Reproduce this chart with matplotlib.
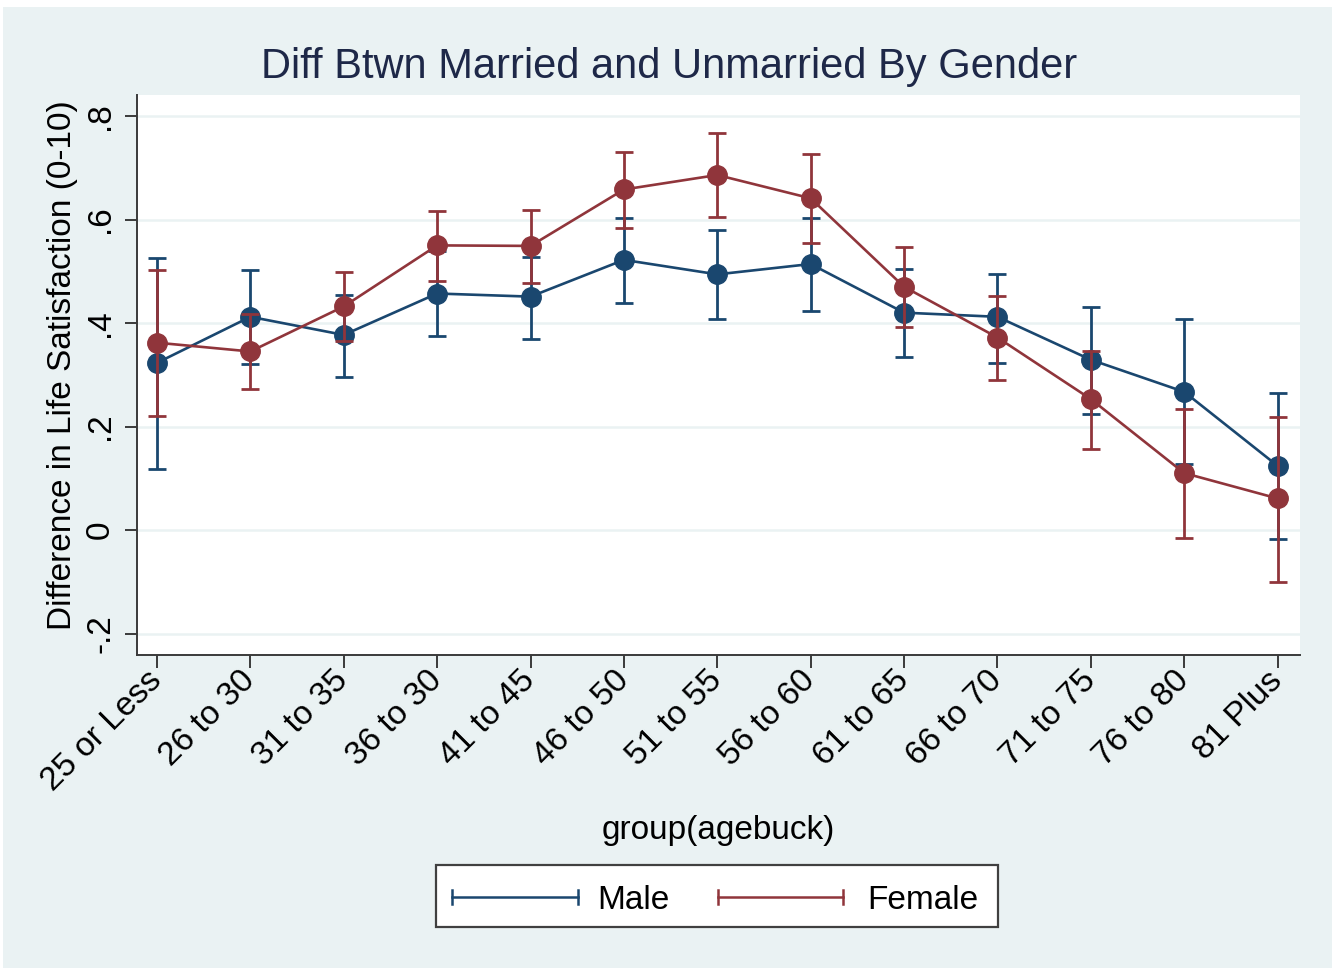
import matplotlib
matplotlib.use("Agg")
import matplotlib.pyplot as plt
from matplotlib.patches import Rectangle
from matplotlib.lines import Line2D
import numpy as np

plt.rcParams['font.family'] = ['Liberation Sans', 'DejaVu Sans']

# ---- data ----
age_groups = ["25 or Less", "26 to 30", "31 to 35", "36 to 30", "41 to 45", "46 to 50",
              "51 to 55", "56 to 60", "61 to 65", "66 to 70", "71 to 75", "76 to 80", "81 Plus"]
male = [0.323, 0.412, 0.377, 0.457, 0.451, 0.522, 0.494, 0.514, 0.420, 0.412, 0.329, 0.267, 0.124]
male_lo = [0.118, 0.321, 0.296, 0.374, 0.369, 0.438, 0.408, 0.424, 0.335, 0.322, 0.224, 0.127, -0.018]
male_hi = [0.526, 0.502, 0.455, 0.540, 0.528, 0.603, 0.580, 0.602, 0.504, 0.495, 0.430, 0.407, 0.264]
female = [0.362, 0.345, 0.432, 0.550, 0.549, 0.658, 0.686, 0.641, 0.470, 0.372, 0.253, 0.110, 0.061]
female_lo = [0.221, 0.272, 0.366, 0.482, 0.478, 0.584, 0.605, 0.555, 0.393, 0.289, 0.157, -0.016, -0.101]
female_hi = [0.502, 0.418, 0.498, 0.616, 0.618, 0.730, 0.767, 0.726, 0.546, 0.453, 0.346, 0.233, 0.219]
yticks = [-0.2, 0, 0.2, 0.4, 0.6, 0.8]
ytick_labels = ["-.2", "0", ".2", ".4", ".6", ".8"]

NAVY = "#1A476F"
MAROON = "#90353B"
BG = "#EAF2F3"
FS = 24

W, H = 1335, 971
fig = plt.figure(figsize=(W / 100, H / 100), dpi=100, facecolor="white")

def fx(px):
    return px / W

def fy(py):
    return 1 - py / H

# outer graph region
fig.patches.append(Rectangle((fx(3), fy(968)), fx(1332) - fx(3), fy(7) - fy(968),
                             transform=fig.transFigure, facecolor=BG, edgecolor="none", zorder=-10))

ax = fig.add_axes([fx(137), fy(655), fx(1300) - fx(137), fy(95) - fy(655)])
ax.set_zorder(1)
ax.set_facecolor("white")

x = np.arange(len(age_groups))

def draw(vals, lo, hi, color, z):
    vals = np.array(vals); lo = np.array(lo); hi = np.array(hi)
    ax.errorbar(x, vals, yerr=[vals - lo, hi - vals], fmt="none", ecolor=color,
                elinewidth=2.0, capsize=6.5, capthick=2.0, zorder=z)
    ax.plot(x, vals, color=color, lw=1.9, marker="o", markersize=14,
            markeredgecolor=color, markerfacecolor=color, zorder=z + 1)

draw(male, male_lo, male_hi, NAVY, 3)
draw(female, female_lo, female_hi, MAROON, 5)

ax.set_xlim(-0.214, 12.24)
ax.set_ylim(-0.2415, 0.8406)
ax.set_yticks(yticks)
ax.set_yticklabels(ytick_labels, rotation=90, va="center", fontsize=FS)
ax.set_xticks(x)
ax.set_xticklabels(age_groups, rotation=45, ha="right", va="center",
                   rotation_mode="anchor", fontsize=FS)
for yv in yticks:
    ax.axhline(yv, color=BG, lw=1.8, zorder=1)

for s in ["top", "right"]:
    ax.spines[s].set_visible(False)
for s in ["left", "bottom"]:
    ax.spines[s].set_color("#3a3a3a")
    ax.spines[s].set_linewidth(1.4)
ax.tick_params(axis="both", direction="out", length=9, width=1.4, color="#3a3a3a", pad=6)
ax.tick_params(axis="x", pad=6)

ax.set_ylabel("Difference in Life Satisfaction (0-10)", fontsize=FS)
ax.yaxis.set_label_coords(-0.051, 0.518)
ax.set_xlabel("group(agebuck)", fontsize=FS, labelpad=13)

fig.text(fx(669), fy(67), "Diff Btwn Married and Unmarried By Gender", fontsize=30,
         color="#1E2848", ha="center", va="center")

# legend box
fig.patches.append(Rectangle((fx(436), fy(927)), fx(998) - fx(436), fy(865) - fy(927),
                             transform=fig.transFigure, facecolor="white",
                             edgecolor="#404040", lw=1.6, zorder=2))
ly = fy(897)
for (x0, x1, tx, label, col) in [(452, 578, 597, "Male", NAVY), (718, 843, 867, "Female", MAROON)]:
    fig.lines.append(Line2D([fx(x0), fx(x1)], [ly, ly], transform=fig.transFigure,
                            color=col, lw=1.8, zorder=3))
    for xe in (x0, x1):
        fig.lines.append(Line2D([fx(xe), fx(xe)], [ly - 0.0072, ly + 0.0072], transform=fig.transFigure,
                                color=col, lw=1.8, zorder=3))
    fig.text(fx(tx), fy(909), label, fontsize=FS, ha="left", va="baseline", zorder=4)

fig.savefig("out.png", dpi=100, facecolor=fig.get_facecolor())
